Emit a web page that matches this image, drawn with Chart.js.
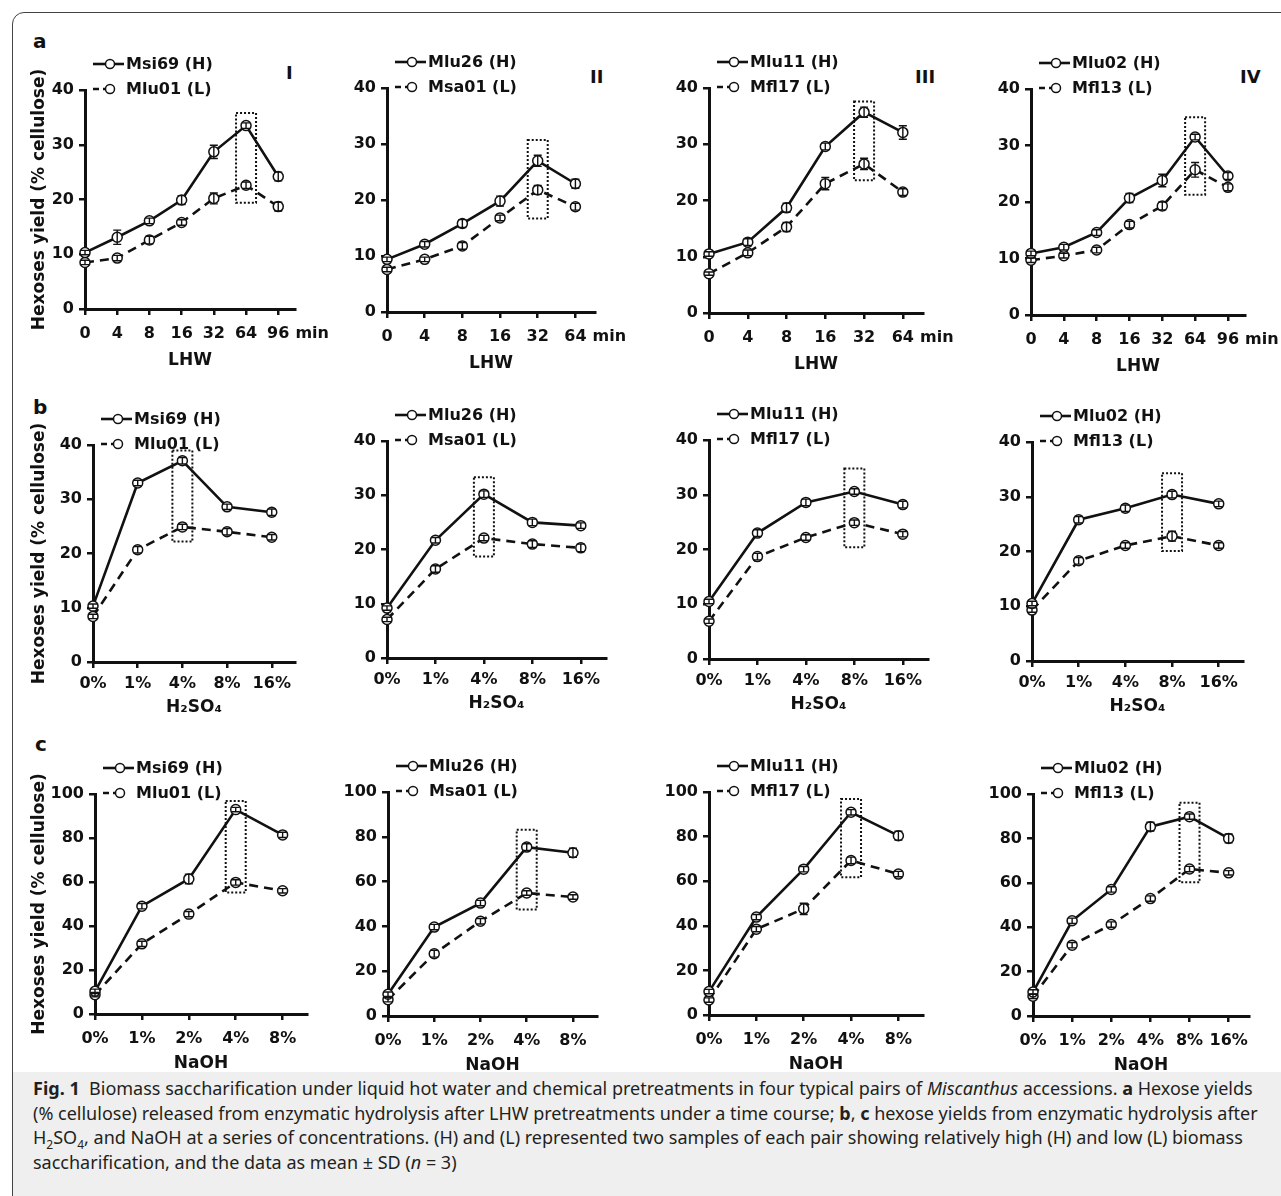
<!DOCTYPE html>
<html>
<head>
<meta charset="utf-8">
<script src="https://cdn.jsdelivr.net/npm/chart.js@4.4.1/dist/chart.umd.min.js"></script>
<style>
  html, body { margin: 0; padding: 0; background: #fff; }
  #page { position: relative; width: 1281px; height: 1196px; overflow: hidden; background: #fff; }
  #frame { position: absolute; left: 12px; top: 12px; width: 1320px; height: 1240px; border: 1px solid #444; border-radius: 12px; }
  #capbg { position: absolute; left: 13px; top: 1072px; width: 1300px; height: 140px; background: #efefef; }
  canvas { position: absolute; }
  .lbl { position: absolute; font-family: "DejaVu Sans"; font-weight: bold; line-height: 1; color: #111; white-space: nowrap; }
  #caption { position: absolute; left: 33px; top: 1076px; font-family: "Noto Sans"; font-size: 18px; line-height: 24.5px; color: #231f20; white-space: nowrap; }
  #caption sub { font-size: 12px; line-height: 0; }
</style>
</head>
<body>
<div id="page">
  <div id="frame"></div>
  <div id="capbg"></div>
  <div class="lbl" style="left:33px;top:31px;font-size:20px">a</div>
  <div class="lbl" style="left:33px;top:397px;font-size:20px">b</div>
  <div class="lbl" style="left:35px;top:734px;font-size:20px">c</div>
  <div class="lbl" style="left:286px;top:64px;font-size:18px">I</div>
  <div class="lbl" style="left:590px;top:68px;font-size:18px">II</div>
  <div class="lbl" style="left:915px;top:68px;font-size:18px">III</div>
  <div class="lbl" style="left:1240px;top:68px;font-size:18px">IV</div>
  <div id="caption">
    <b>Fig. 1</b>&nbsp;&nbsp;Biomass saccharification under liquid hot water and chemical pretreatments in four typical pairs of <i>Miscanthus</i> accessions. <b>a</b> Hexose yields<br>
    (% cellulose) released from enzymatic hydrolysis after LHW pretreatments under a time course; <b>b</b>, <b>c</b> hexose yields from enzymatic hydrolysis after<br>
    H<sub>2</sub>SO<sub>4</sub>, and NaOH at a series of concentrations. (H) and (L) represented two samples of each pair showing relatively high (H) and low (L) biomass<br>
    saccharification, and the data as mean ± SD (<i>n</i> = 3)
  </div>
</div>
<script>
// ---- data ----
const highNames = ['Msi69 (H)', 'Mlu26 (H)', 'Mlu11 (H)', 'Mlu02 (H)'];
const lowNames = ['Mlu01 (L)', 'Msa01 (L)', 'Mfl17 (L)', 'Mfl13 (L)'];

// LHW time course (min)
const lhwLong = ['0', '4', '8', '16', '32', '64', '96'];
const lhwShort = ['0', '4', '8', '16', '32', '64'];
const lhwCats = [lhwLong, lhwShort, lhwShort, lhwLong];
const lhwHigh = [
    [10.3, 13.1, 16.1, 19.9, 28.7, 33.5, 24.2],
    [9.4, 12.1, 15.8, 19.8, 27.0, 22.9],
    [10.5, 12.6, 18.7, 29.6, 35.7, 32.1],
    [10.9, 12.0, 14.6, 20.7, 23.8, 31.5, 24.6]
];
const lhwLow = [
    [8.5, 9.3, 12.6, 15.8, 20.2, 22.6, 18.7],
    [7.6, 9.4, 11.8, 16.8, 21.8, 18.8],
    [7.0, 10.7, 15.3, 23.0, 26.5, 21.5],
    [9.7, 10.5, 11.5, 16.0, 19.3, 25.7, 22.6]
];
const lhwHighSD = [
    [0.4, 1.3, 0.5, 0.8, 1.2, 0.5, 0.8],
    [0.4, 0.5, 0.7, 0.9, 1.0, 0.8],
    [0.4, 0.6, 0.8, 0.6, 0.9, 1.2],
    [0.4, 0.5, 0.5, 0.8, 1.1, 0.5, 0.6]
];
const lhwLowSD = [
    [0.4, 0.5, 0.7, 0.5, 1.0, 0.6, 0.8],
    [0.4, 0.4, 0.6, 0.5, 0.8, 0.6],
    [0.3, 0.5, 0.8, 1.1, 1.0, 0.6],
    [0.4, 0.4, 0.5, 0.6, 0.7, 1.3, 0.6]
];
// dotted box round the optimum: [category index, low, high]
const lhwPeak = [[5, 19.4, 35.8], [4, 16.7, 30.7], [4, 23.6, 37.6], [5, 21.3, 35.0]];

// H2SO4 concentrations
const acidConc = ['0%', '1%', '4%', '8%', '16%'];
const acidHigh = [
    [10.3, 33.0, 37.1, 28.6, 27.6],
    [9.2, 21.7, 30.2, 25.0, 24.4],
    [10.5, 23.0, 28.6, 30.6, 28.2],
    [10.5, 25.8, 27.9, 30.4, 28.7]
];
const acidLow = [
    [8.4, 20.7, 24.9, 24.0, 23.0],
    [7.1, 16.4, 22.1, 21.0, 20.3],
    [6.9, 18.7, 22.2, 24.9, 22.8],
    [9.3, 18.3, 21.1, 22.8, 21.1]
];
const acidHighSD = [
    [0.4, 0.5, 0.6, 0.5, 0.6],
    [0.4, 0.5, 0.6, 0.6, 0.5],
    [0.4, 0.6, 0.6, 0.5, 0.6],
    [0.4, 0.6, 0.6, 0.6, 0.5]
];
const acidLowSD = [
    [0.4, 0.6, 0.5, 0.6, 0.5],
    [0.4, 0.6, 0.5, 0.6, 0.7],
    [0.4, 0.6, 0.5, 0.5, 0.5],
    [0.4, 0.6, 0.5, 0.9, 0.5]
];
const acidPeak = [[2, 22.2, 39.0], [2, 18.7, 33.3], [3, 20.4, 34.8], [3, 20.1, 34.3]];

// NaOH concentrations
const alkaliShort = ['0%', '1%', '2%', '4%', '8%'];
const alkaliLong = ['0%', '1%', '2%', '4%', '8%', '16%'];
const alkaliCats = [alkaliShort, alkaliShort, alkaliShort, alkaliLong];
const alkaliHigh = [
    [10.3, 49.0, 61.4, 92.9, 81.4],
    [9.7, 39.7, 50.4, 75.4, 72.9],
    [10.5, 43.9, 65.4, 90.9, 80.4],
    [10.8, 42.9, 57.0, 85.3, 89.8, 80.0]
];
const alkaliLow = [
    [8.8, 31.9, 45.4, 59.8, 56.0],
    [7.3, 27.8, 42.3, 54.9, 53.1],
    [6.7, 38.5, 47.6, 69.3, 63.2],
    [8.9, 31.9, 41.2, 52.9, 66.2, 64.5]
];
const alkaliHighSD = [
    [1.0, 1.2, 2.2, 1.0, 1.2],
    [1.0, 1.2, 1.2, 1.5, 2.0],
    [1.0, 1.2, 1.2, 1.2, 2.0],
    [1.0, 1.2, 1.2, 2.0, 1.2, 2.0]
];
const alkaliLowSD = [
    [1.0, 1.2, 1.2, 1.2, 1.0],
    [1.0, 1.5, 1.2, 1.0, 1.0],
    [1.0, 1.2, 2.5, 1.5, 1.2],
    [1.0, 1.2, 1.2, 1.2, 1.2, 1.0]
];
const alkaliPeak = [[3, 55.2, 96.8], [3, 47.5, 83.2], [3, 61.8, 96.9], [4, 60.2, 96.1]];

// ---- layout (pixels on the page) ----
const rowBoxes = [
    [{ax: 85, xEnd: 295, yTop: 90, yBot: 309}, {ax: 387, xEnd: 595, yTop: 88, yBot: 312},
     {ax: 709, xEnd: 923, yTop: 88, yBot: 313}, {ax: 1031, xEnd: 1245, yTop: 89, yBot: 315}],
    [{ax: 93, xEnd: 295, yTop: 445, yBot: 662}, {ax: 387, xEnd: 606, yTop: 441, yBot: 658},
     {ax: 709, xEnd: 928, yTop: 440, yBot: 659}, {ax: 1032, xEnd: 1243, yTop: 442, yBot: 661}],
    [{ax: 95, xEnd: 307, yTop: 794, yBot: 1014}, {ax: 388, xEnd: 597, yTop: 792, yBot: 1016},
     {ax: 709, xEnd: 923, yTop: 792, yBot: 1015}, {ax: 1033, xEnd: 1249, yTop: 794, yBot: 1016}]
];
const rowStyle = [
    {yMax: 40, step: 10, title: 'LHW', unit: 'min', tickPad: 9, titlePad: 2},
    {yMax: 40, step: 10, title: 'H\u2082SO\u2084', unit: '', tickPad: 6, titlePad: 8},
    {yMax: 100, step: 20, title: 'NaOH', unit: '', tickPad: 9, titlePad: 4}
];

const FONT = '"DejaVu Sans"';
const page = document.getElementById('page');

// error bars, dotted peak box, legend and unit drawn through the chart scales
const extrasPlugin = {
    id: 'extras',
    afterDatasetsDraw(chart, args, opts) {
        const ctx = chart.ctx;
        const xs = chart.scales.x, ys = chart.scales.y;
        ctx.save();
        ctx.strokeStyle = '#111';
        ctx.lineWidth = 1.4;
        chart.data.datasets.forEach((ds, di) => {
            const meta = chart.getDatasetMeta(di);
            meta.data.forEach((pt, i) => {
                const v = ds.data[i].y, sd = ds.sd[i];
                const yA = ys.getPixelForValue(v + sd), yB = ys.getPixelForValue(v - sd);
                ctx.beginPath();
                ctx.moveTo(pt.x, yA); ctx.lineTo(pt.x, yB);
                ctx.moveTo(pt.x - 4, yA); ctx.lineTo(pt.x + 4, yA);
                ctx.moveTo(pt.x - 4, yB); ctx.lineTo(pt.x + 4, yB);
                ctx.stroke();
            });
        });
        // dotted box
        const pk = opts.peak;
        const px = xs.getPixelForValue(pk[0]);
        const top = ys.getPixelForValue(pk[2]), bot = ys.getPixelForValue(pk[1]);
        ctx.setLineDash([2, 2]);
        ctx.lineWidth = 2;
        ctx.strokeRect(px - 10, top, 20, bot - top);
        ctx.restore();
    },
    afterDraw(chart, args, opts) {
        const ctx = chart.ctx;
        const area = chart.chartArea;
        ctx.save();
        ctx.fillStyle = '#111';
        ctx.strokeStyle = '#111';
        ctx.font = 'bold 16px ' + FONT;
        ctx.textBaseline = 'middle';
        chart.data.datasets.forEach((ds, di) => {
            const y = area.top - 26 + di * 25;
            const x0 = area.left + 8;
            ctx.lineWidth = 2.6;
            ctx.beginPath();
            if (ds.borderDash.length) {
                ctx.moveTo(x0, y); ctx.lineTo(x0 + 6, y);
                ctx.moveTo(x0 + 10, y); ctx.lineTo(x0 + 17, y);
            } else {
                ctx.moveTo(x0, y); ctx.lineTo(x0 + 31, y);
            }
            ctx.stroke();
            ctx.beginPath();
            ctx.lineWidth = 1.5;
            ctx.fillStyle = '#fff';
            ctx.arc(x0 + 17, y, 4.5, 0, Math.PI * 2);
            ctx.fill(); ctx.stroke();
            ctx.fillStyle = '#111';
            ctx.textAlign = 'left';
            ctx.fillText(ds.label, x0 + 33, y + 1);
        });
        if (opts.unit) {
            const xs = chart.scales.x;
            const last = xs.ticks[xs.ticks.length - 1];
            const lx = xs.getPixelForValue(last.value);
            const w = ctx.measureText(opts.cats[last.value]).width;
            ctx.textAlign = 'left';
            ctx.fillText(opts.unit, lx + w / 2 + 6, xs.top + 6 + opts.tickPad + 9.6);
        }
        ctx.restore();
    }
};

function makePanel(box, st, col, cats, hi, lo, hiSD, loSD, peak) {
    const L = 75, T = 70, R = 50, B = 64;
    const w = L + (box.xEnd - box.ax) + R;
    const h = T + (box.yBot - box.yTop) + B;
    const cv = document.createElement('canvas');
    cv.width = w; cv.height = h;
    cv.style.left = (box.ax - L) + 'px';
    cv.style.top = (box.yTop - T) + 'px';
    page.appendChild(cv);
    const n = cats.length;
    const tickFont = {family: FONT, weight: 'bold', size: 16};
    new Chart(cv, {
        type: 'line',
        data: {
            datasets: [{
                label: highNames[col],
                data: hi.map((v, i) => ({x: i, y: v})),
                sd: hiSD,
                borderColor: '#111',
                borderWidth: 2.6,
                borderDash: [],
                pointRadius: 5,
                pointBorderWidth: 1.5,
                pointBackgroundColor: '#fff',
                pointBorderColor: '#111',
                tension: 0,
                clip: false
            }, {
                label: lowNames[col],
                data: lo.map((v, i) => ({x: i, y: v})),
                sd: loSD,
                borderColor: '#111',
                borderWidth: 2.6,
                borderDash: [9, 6],
                pointRadius: 5,
                pointBorderWidth: 1.5,
                pointBackgroundColor: '#fff',
                pointBorderColor: '#111',
                tension: 0,
                clip: false
            }]
        },
        options: {
            animation: false,
            responsive: false,
            devicePixelRatio: 1,
            events: [],
            layout: {padding: {top: T, right: R, left: 0, bottom: 0}},
            plugins: {
                legend: {display: false},
                tooltip: {enabled: false},
                extras: {peak: peak, unit: st.unit, cats: cats, tickPad: st.tickPad}
            },
            scales: {
                x: {
                    type: 'linear',
                    min: 0,
                    max: n - 1 + 0.52,
                    afterBuildTicks: s => { s.ticks = cats.map((c, i) => ({value: i})); },
                    afterFit: s => { s.height = B; },
                    border: {color: '#111', width: 3},
                    grid: {drawOnChartArea: false, drawTicks: true, tickLength: 6, color: '#111', lineWidth: 2.5},
                    ticks: {
                        autoSkip: false, maxRotation: 0,
                        callback: v => cats[v],
                        color: '#111', font: tickFont, padding: st.tickPad
                    },
                    title: {
                        display: true, text: st.title, color: '#111',
                        font: {family: FONT, weight: 'bold', size: 17},
                        padding: {top: 0, bottom: st.titlePad}
                    }
                },
                y: {
                    min: 0,
                    max: st.yMax,
                    afterFit: s => { s.width = L; },
                    border: {color: '#111', width: 3},
                    grid: {drawOnChartArea: false, drawTicks: true, tickLength: 6, color: '#111', lineWidth: 2.5},
                    ticks: {stepSize: st.step, color: '#111', font: tickFont, padding: 5},
                    title: {
                        display: col === 0,
                        text: 'Hexoses yield (% cellulose)',
                        color: '#111',
                        font: {family: FONT, weight: 'bold', size: 17},
                        padding: {top: 40 - (box.ax - L) - 10.2, bottom: 0}
                    }
                }
            }
        },
        plugins: [extrasPlugin]
    });
}

for (let c = 0; c < 4; c++) {
    makePanel(rowBoxes[0][c], rowStyle[0], c, lhwCats[c], lhwHigh[c], lhwLow[c], lhwHighSD[c], lhwLowSD[c], lhwPeak[c]);
    makePanel(rowBoxes[1][c], rowStyle[1], c, acidConc, acidHigh[c], acidLow[c], acidHighSD[c], acidLowSD[c], acidPeak[c]);
    makePanel(rowBoxes[2][c], rowStyle[2], c, alkaliCats[c], alkaliHigh[c], alkaliLow[c], alkaliHighSD[c], alkaliLowSD[c], alkaliPeak[c]);
}
</script>
</body>
</html>
